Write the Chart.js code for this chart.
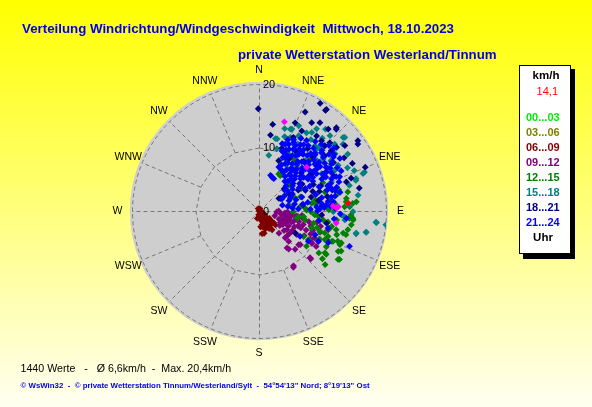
<!DOCTYPE html>
<html><head><meta charset="utf-8">
<script src="https://cdn.jsdelivr.net/npm/chart.js@4.4.1/dist/chart.umd.min.js"></script>
<style>html,body{margin:0;padding:0;background:#fff;overflow:hidden}canvas{display:block}</style>
</head><body>
<canvas id="c" width="592" height="407"></canvas>
<script>
// ---- texts ----
const titleLine1 = 'Verteilung Windrichtung/Windgeschwindigkeit  Mittwoch, 18.10.2023';
const titleLine2 = 'private Wetterstation Westerland/Tinnum';
const statsLine = '1440 Werte   -   \u00D8 6,6km/h  -  Max. 20,4km/h';
const creditLine = '\u00A9 WsWin32  -  \u00A9 private Wetterstation Tinnum/Westerland/Sylt  -  54\u00B054\'13" Nord; 8\u00B019\'13" Ost';
const unitLabel = 'km/h';
const meanLabel = '14,1';
const hourUnit = 'Uhr';

// ---- categories / ticks ----
const directionLabels = ['N','NNE','NE','ENE','E','ESE','SE','SSE','S','SSW','SW','WSW','W','WNW','NW','NNW'];
const speedTicks = [0, 10, 20];
const hourLabels = ['00...03','03...06','06...09','09...12','12...15','15...18','18...21','21...24'];

// ---- series values: [direction in degrees, speed in km/h] ----
const wind00_03 = [[0,0],[163,0.9],[151,2.2],[130,1.4],[140,1.8]];
const wind03_06 = [[163,1.7],[147,2.9],[132,2.5],[155,1.2],[138,2.8]];
const wind06_09 = [[0,0],[20,0.4],[340,0.4],[90,0.3],[163,0.9],[163,1.7],[151,2.2],[147,2.9],[145,3.6],[172,3.6],[174,2.5],[130,1.4],[132,2.5],[129,3.0],[130,3.4],[140,1.8],[155,1.2],[138,2.8],[169,1.4],[120,1.0],[150,3.2],[167,2.2],[141,2.5],[129,2.7],[167,3.6],[135,2.0],[145,1.0],[125,2.0],[160,3.0],[193,1.2],[185,0.6],[168,2.5],[149,2.5]];
const wind09_12 = [[93,2.8],[98,3.5],[94,4.1],[98,4.7],[95,5.3],[97.5,6.0],[112,3.4],[110,4.1],[108,4.9],[106,5.7],[105,6.5],[120,4.3],[117,5.2],[114,6.1],[112,7.1],[124,5.3],[120,6.1],[107,7.3],[112,8.0],[114,8.9],[118.5,8.1],[116,9.7],[117,10.5],[121.4,9.8],[121.8,10.6],[107,2.6],[90,3.1],[100,6.3],[100,7.1],[102,8.0],[142,7.6],[147.8,10.2],[132.7,11.1],[130.4,8.2],[132.2,5.9],[138,4.7],[121.2,9.7],[105.2,11.3],[142.8,7.3],[135.7,6.7],[136.7,8.3],[129.2,8.4],[132.5,10.9],[148.6,10.4],[135.6,5.9],[103,3.9],[115,4.6],[101,5.0],[109,5.4],[96,6.8],[104,4.4],[118,3.8],[125,4.0],[128,5.0],[111,6.6],[99,5.9],[92,4.5],[122,7.0],[126,6.0],[110,9.0],[119,9.2],[106,8.5],[101,9.3],[109,10.2],[113,11.6],[104,10.0]];
const wind12_15 = [[50.6,6.4],[31,6.5],[68.2,5.3],[98,6.3],[100.9,7.4],[108,8.7],[108.5,10.9],[112.7,12.4],[111,13.3],[122.4,12.3],[121.5,14.6],[129,13.4],[116,14.4],[101.9,14.3],[95.4,14.9],[93.5,14.5],[87.2,13.5],[102,11.7],[95.4,9.4],[86.7,7.3],[79,9.0],[81.5,11.5],[77.5,12.7],[73.9,10.8],[78.7,4.8],[121,14.8],[117,14.0],[111.2,13.9],[112.3,12.6],[110.2,11.6],[126.5,9.3],[120,9.0],[119.7,8.1],[108.5,10.1],[103.6,11.5],[103.6,12.5],[104.7,13.7],[94.6,14.3],[92.5,14.5],[87.3,14.3],[92.7,13.0],[96.6,12.3],[97.9,10.2],[102.6,8.8],[94,8.8],[97.2,7.1],[100.8,6.1],[88.8,7.5],[84.1,6.5],[91.1,5.4],[86.4,10.7],[84.3,12.0],[84,13.8],[85.4,14.8],[48.9,6.6],[59.5,5.4],[32.2,6.8],[71.1,6.9],[81.8,13.9],[84.6,15.4],[77.9,14.3],[49,6.2],[28,6.6],[113.5,11.3],[122.8,12.6],[94.4,14.8],[98.5,14.7],[105.2,14.2],[112.6,13.8],[40,8.5],[55,9.5],[62,7.5],[66,11],[75,13],[70,6],[45,11.5],[35,9.8],[58,12.8],[89,11],[83,9],[91,8.2],[99,11],[106,9.5],[115,10.5],[118,12],[107,12.8],[125,11.5],[127,12.5],[81.8,8.4]];
const wind15_18 = [[14.1,11.7],[10,8.9],[20.3,11.2],[21.9,13.9],[27.8,13.4],[31.3,14.4],[40.7,13.5],[48.6,15.9],[49.4,17.8],[51.5,16.9],[67,16.3],[69.8,17.7],[71.6,16.1],[80.9,15.8],[95.5,18.5],[96.2,20.1],[101.3,17.2],[103.2,15.7],[93.8,13.5],[48.8,12.1],[42.5,10.8],[31,11.1],[33.5,8],[17.3,13.6],[21,13.8],[23.1,12.6],[12.8,11.7],[29.3,13.3],[43,13.7],[39.1,16.6],[48.8,17.6],[43.3,16.3],[33.9,14.9],[42.9,13.3],[57.3,16.6],[70.2,17.4],[72.5,16],[74.2,14.8],[43.6,12],[27.5,10.1],[59.2,11.5],[61.9,13.5],[51,13],[26.9,9.2],[39.8,9.3],[86.3,14.3],[90.4,14.8],[102.8,15.7],[101.1,17.2],[95.6,18.6],[90.5,11.7],[95.9,13.6],[68.2,12.3],[25,14.8],[30,12.2],[36,13.9],[38,12.4],[45,14.6],[33,10.5],[28,11.8],[24,10.4],[19,12.4],[35,15.8],[47,13.4],[53,15.0],[55,13.8],[60,14.4],[64,15.5],[37,11.3],[16,10.2],[41,15.2],[22.9,10.0]];
const wind18_21 = [[29.6,19.5],[25,17.2],[33.4,19.0],[9,13.8],[22.3,15.0],[30.8,16.2],[34.6,16.9],[42.9,17.9],[54.6,19.1],[55.9,18.8],[52.7,17.0],[45.3,14.6],[50.2,14.8],[28.1,14.3],[37.5,14.9],[41.7,14.8],[46,15.5],[50.6,15.8],[31,11.1],[359.6,16.1],[8.6,12.1],[21.4,8.5],[59.7,3.9],[48.5,5.3],[77.1,16.2],[67.6,18.1],[70.4,15.4],[33.6,19.2],[40.2,16.9],[43.4,17.7],[62,7],[66,8],[70,9],[72,10],[75,8.5],[68,10.5],[78,11],[64,9.5],[58,8],[55,10],[52,11.5],[60,12],[74,12],[80,9.5],[48,9],[45,12],[42,10.5],[38,12.5],[35,11],[50,13.5],[57,14],[65,13],[85,10],[88,12],[82,7],[60,5.5],[40,7.5],[30,9.5],[20,10.5],[25,12.8],[71.6,14.5],[63,16.5],[58,15.8],[93.6,9.9],[100.2,10.8],[121.3,6.7],[57.6,3.7]];
const wind21_24 = [[62,4.1],[76,3.8],[51,5.2],[59,4.7],[71,5.0],[81,4.6],[41,6.2],[47,5.8],[57,6.3],[63,5.9],[73,6.1],[79,5.7],[87,6.2],[32,7.2],[37,6.8],[45,7.1],[51,6.9],[60,7.3],[72,7.1],[81,7.0],[26,8.1],[34,7.8],[39,8.2],[46,7.9],[52,8.3],[56,7.7],[64,8.1],[80,7.8],[88,8.1],[24,9.2],[31,8.8],[35,9.1],[42,8.9],[47,9.3],[53,8.8],[57,9.2],[64,8.9],[74,9.3],[86,9.1],[90,9.2],[21,10.1],[28,9.8],[31,10.2],[38,9.9],[41,10.3],[48,9.9],[51,10.2],[58,10.0],[61,9.7],[68,10.2],[78,10.1],[83,9.9],[87,10.3],[19,11.2],[26,10.8],[29,11.1],[35,10.9],[38,11.3],[45,11.0],[47,10.7],[54,11.2],[57,10.8],[63,11.1],[73,11.2],[82,11.0],[86,11.3],[22,12.1],[29,11.8],[32,12.3],[36,11.9],[42,12.2],[47,11.8],[51,12.2],[54,11.9],[60,12.3],[63,11.8],[69,12.1],[72,11.9],[79,12.2],[83,11.8],[30,13.2],[37,12.9],[41,13.1],[44,12.7],[50,13.2],[54,12.8],[59,13.1],[62,12.9],[66,13.3],[73,12.8],[77,13.1],[39,14.1],[46,13.8],[51,14.2],[56,13.9],[61,14.1],[67,13.8],[47,15.1],[53,14.8],[57,15.2],[21.2,5.7],[24.3,7.6],[24.8,9.9],[111.3,15.3],[121.5,9.1],[121.6,7.6],[113,9.6],[103.9,11.2],[94.7,13.8],[21.5,11.3],[26.8,12.1],[36.1,11.4],[117,10.5],[114.6,12],[99,9.6],[96,11.9],[92,12.8],[18,5.9],[24.6,5.6],
  [55,5.5],[67,5.4],[85,5.3],[44,6.6],[53,6.6],[28,7.4],[41,7.5],[48,7.5],[29,8.5],[37,8.5],[44,8.4],[50,8.6],[27,9.4],[39,9.5],[45,9.6],[55,9.5],[88,9.6],[24,10.5],[34,10.5],[44,10.5],[54,10.6],[85,10.6],[24,11.5],[33,11.6],[41,11.6],[50,11.5],[60,11.6],[70,11.5],[79,11.6],[26,12.5],[34,12.6],[45,12.5],[57,12.6],[66,12.5],[75,12.4],[34,13.4],[47,13.5],[57,13.6],[70,13.4],[43,14.4],[54,14.5],[64,14.4],[50,15.4]];
const windGusts = [[15.9,14.6],[86.9,12.5],[98.9,12.3],[86.2,11.7],[47.5,10.2],[88,12.2]];
const windMean = [[85,14.1]];

// ---- styles ----
const hourColors = ['#00ee00','#808000','#800000','#800080','#008000','#008080','#000080','#0000ff'];
const seriesList = [wind00_03, wind03_06, wind06_09, wind09_12, wind12_15, wind15_18, wind18_21, wind21_24];

const DEG = Math.PI / 180;
const toXY = pts => pts.map(([d, s]) => ({ x: s * Math.sin(d * DEG), y: s * Math.cos(d * DEG) }));
const mkSet = (label, pts, color, order) => ({
  label, data: toXY(pts), backgroundColor: color, borderColor: color, order,
  pointStyle: 'rectRot', pointRadius: 3.4, pointBorderWidth: 0, pointHoverRadius: 3.4, showLine: false
});

// chronological drawing: later hours painted on top (lower order = drawn later)
const datasets = seriesList.map((pts, i) => mkSet(hourLabels[i], pts, hourColors[i], 20 - i));
datasets.push(mkSet('Böen', windGusts, '#ff00ff', 2));
datasets.push(mkSet('Mittel', windMean, '#ff0000', 1));

const FONT = '"Liberation Sans", Arial, sans-serif';

function fitFont(ctx, text, weight, width) {
  ctx.font = weight + '10px ' + FONT;
  const s = 10 * width / ctx.measureText(text).width;
  ctx.font = weight + s.toFixed(2) + 'px ' + FONT;
}

const rosePlugin = {
  id: 'rose',
  beforeDraw(chart) {
    const ctx = chart.ctx, W = chart.width, H = chart.height;
    const xs = chart.scales.x, ys = chart.scales.y;
    const P = (d, s) => [xs.getPixelForValue(s * Math.sin(d * DEG)), ys.getPixelForValue(s * Math.cos(d * DEG))];
    const cx = xs.getPixelForValue(0), cy = ys.getPixelForValue(0);
    ctx.save();
    const g = ctx.createLinearGradient(0, 0, 0, H);
    g.addColorStop(0, '#ffff00');
    g.addColorStop(1, '#fffff2');
    ctx.fillStyle = g;
    ctx.fillRect(0, 0, W, H);
    // disk
    const rOuter = xs.getPixelForValue(20.35) - cx;
    ctx.fillStyle = '#cecece';
    ctx.beginPath(); ctx.arc(cx, cy, rOuter, 0, Math.PI * 2); ctx.fill();
    // grid
    ctx.setLineDash([4, 3]);
    ctx.strokeStyle = '#777777';
    ctx.lineWidth = 1;
    const r20 = xs.getPixelForValue(20) - cx;
    ctx.beginPath(); ctx.arc(cx + 0.5, cy + 0.5, r20, 0, Math.PI * 2); ctx.stroke();
    ctx.beginPath();
    for (let i = 0; i <= 16; i++) {
      const [px, py] = P(i * 22.5, 10);
      if (i === 0) ctx.moveTo(px + 0.5, py + 0.5); else ctx.lineTo(px + 0.5, py + 0.5);
    }
    ctx.stroke();
    for (let i = 0; i < 16; i++) {
      const [x0, y0] = P(i * 22.5, i % 2 === 0 ? 0 : 10);
      const [x1, y1] = P(i * 22.5, 20);
      ctx.beginPath(); ctx.moveTo(x0 + 0.5, y0 + 0.5); ctx.lineTo(x1 + 0.5, y1 + 0.5); ctx.stroke();
    }
    ctx.setLineDash([]);
    // direction labels
    ctx.fillStyle = '#000';
    ctx.font = '10.5px ' + FONT;
    ctx.textAlign = 'center'; ctx.textBaseline = 'middle';
    const rl = r20 + 14.5;
    directionLabels.forEach((lab, i) => {
      const a = i * 22.5 * DEG;
      ctx.fillText(lab, cx + rl * Math.sin(a), cy - rl * Math.cos(a) + 0.5);
    });
    ctx.restore();
  },
  afterDatasetsDraw(chart) {
    const ctx = chart.ctx;
    const xs = chart.scales.x, ys = chart.scales.y;
    const cx = xs.getPixelForValue(0);
    ctx.save();
    // speed tick labels on the N spoke
    ctx.fillStyle = '#000';
    ctx.font = '11px ' + FONT;
    ctx.textAlign = 'left'; ctx.textBaseline = 'middle';
    speedTicks.forEach(v => ctx.fillText(String(v), cx + 4, ys.getPixelForValue(v) + 0.5));
    // titles
    ctx.fillStyle = '#0000ee';
    ctx.font = 'bold 13.3px ' + FONT;
    ctx.textBaseline = 'alphabetic';
    ctx.fillText(titleLine1, 22, 33);
    ctx.fillText(titleLine2, 238, 59);
    // stats
    ctx.fillStyle = '#000';
    ctx.textBaseline = 'middle';
    fitFont(ctx, statsLine, '', 211);
    ctx.fillText(statsLine, 20.5, 369);
    // credit line
    fitFont(ctx, creditLine, 'bold ', 349);
    ctx.fillStyle = '#0000ee';
    ctx.fillText(creditLine, 20.5, 386);
    // legend box
    ctx.fillStyle = '#000';
    ctx.fillRect(523, 69, 52, 190);
    ctx.fillStyle = '#fff';
    ctx.fillRect(519, 65, 52, 189);
    ctx.strokeStyle = '#000'; ctx.lineWidth = 1;
    ctx.strokeRect(519.5, 65.5, 51, 188);
    ctx.fillStyle = '#000';
    ctx.font = 'bold 11.5px ' + FONT;
    ctx.textAlign = 'center';
    ctx.fillText(unitLabel, 546, 76);
    ctx.fillStyle = '#ff0000';
    ctx.font = '11px ' + FONT;
    ctx.textAlign = 'right';
    ctx.fillText(meanLabel, 558, 92);
    ctx.font = 'bold 11px ' + FONT;
    ctx.textAlign = 'left';
    hourLabels.forEach((lab, i) => {
      ctx.fillStyle = hourColors[i];
      ctx.fillText(lab, 526, 118 + 15 * i);
    });
    ctx.fillStyle = '#000';
    ctx.font = 'bold 11.5px ' + FONT;
    ctx.textAlign = 'center';
    ctx.fillText(hourUnit, 543, 238);
    ctx.restore();
  }
};

new Chart(document.getElementById('c'), {
  type: 'scatter',
  data: { datasets },
  options: {
    responsive: false,
    animation: false,
    devicePixelRatio: 1,
    layout: { padding: { left: 132, right: 206, top: 84, bottom: 69 } },
    scales: {
      x: { type: 'linear', min: -20, max: 20, display: false },
      y: { type: 'linear', min: -20, max: 20, display: false }
    },
    plugins: { legend: { display: false }, tooltip: { enabled: false }, title: { display: false } },
    events: []
  },
  plugins: [rosePlugin]
});
</script>
</body></html>
